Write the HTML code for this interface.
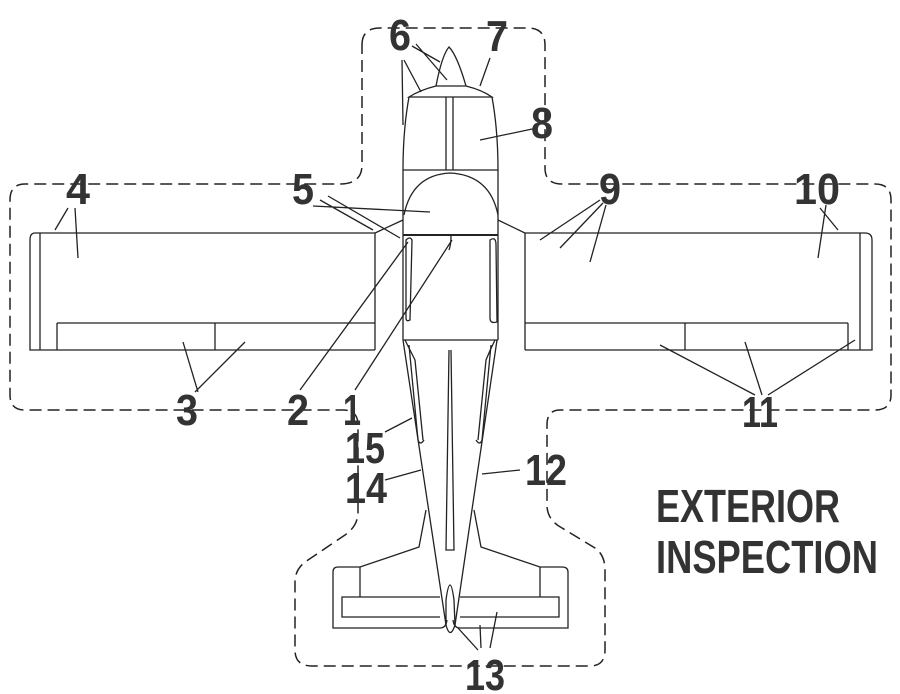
<!DOCTYPE html>
<html><head><meta charset="utf-8"><style>
html,body{margin:0;padding:0;background:#fff;}
svg{display:block}
.n{font-family:"Liberation Sans",sans-serif;font-weight:bold;fill:#333;font-size:44px}
.t{font-family:"Liberation Sans",sans-serif;font-weight:bold;fill:#333;font-size:46px}
</style></head><body>
<svg width="900" height="694" viewBox="0 0 900 694" xmlns="http://www.w3.org/2000/svg">
<g fill="none" stroke="#222" stroke-width="1.5">
<path d="M362,45 Q362,28 380,28 L528,28 Q545,28 545,45 L545,168 Q545,184 562,184 L875,184 Q891,184 891,200 L891,395 Q891,410 875,410 L560,410 Q547,410 547,425 L547,505 Q547,520 562,528 L595,548 Q605,555 605,570 L605,650 Q605,666 590,666 L312,666 Q295,666 295,650 L295,582 Q295,568 308,560 L345,535 Q358,526 358,512 L358,425 Q358,410 343,410 L25,410 Q10,410 10,395 L10,200 Q10,184 25,184 L340,184 Q362,184 362,165 Z" stroke-dasharray="12,6"/>
</g>
<g fill="none" stroke="#222" stroke-width="1.3">
<path d="M436,86 Q442,55 449,47 Q457,55 466,86"/>
<path d="M409,97 Q420,90 436,86 L466,86 Q482,90 492,97 L409,97 Z"/>
<path d="M409,97 Q403,130 403,170 M492,97 Q498,130 498,170"/>
<line x1="446" y1="97" x2="446" y2="170"/><line x1="453" y1="97" x2="453" y2="170"/>
<line x1="403" y1="170" x2="498" y2="170"/>
<path d="M404,215 Q412,175 450,173 Q490,175 498,215"/>
<line x1="403" y1="235" x2="498" y2="235" stroke-width="2"/>
<line x1="403" y1="170" x2="403" y2="340"/><line x1="498" y1="170" x2="498" y2="340"/>
<path d="M406,240 Q410,236 412,240 L410,320 Q406,322 406,318 Z"/>
<path d="M490,240 Q496,236 496,245 L497,322 Q490,324 490,318 Z"/>
<path d="M451,236 Q451,245 449,250"/>
<path d="M403,220 L375,233 L375,350 M498,220 L525,233 L525,350"/>
<path d="M403,340 L446,625 M497,340 L455,625"/>
<path d="M405,340 Q410,350 415,360 L423,440 M495,340 Q490,350 486,360 L478,440"/>
<path d="M409,345 L418,440 Q420,446 424,440 M491,345 L482,440 Q480,446 476,440"/>
<line x1="403" y1="340" x2="498" y2="340"/>
<path d="M449,350 L446,550 L454,550 L451,350"/>
<path d="M375,233 L35,233 Q30,233 30,240 L30,350 L375,350"/>
<line x1="40" y1="233" x2="40" y2="350"/>
<line x1="57" y1="323" x2="375" y2="323"/>
<line x1="57" y1="323" x2="57" y2="350"/><line x1="215" y1="323" x2="215" y2="350"/>
<path d="M525,233 L865,233 Q872,233 872,240 L872,350 L525,350"/>
<line x1="860" y1="233" x2="860" y2="350"/>
<line x1="525" y1="323" x2="848" y2="323"/>
<line x1="685" y1="323" x2="685" y2="350"/><line x1="848" y1="323" x2="848" y2="350"/>
<path d="M426,510 L419,547 L360,567 L338,567 Q333,567 333,572 L333,628 L440,628 Q446,628 447,620"/>
<path d="M360,567 L360,597 L342,597 L342,617 L440,617 M360,597 L440,597"/>
<path d="M474,510 L481,547 L540,567 L562,567 Q568,567 568,572 L568,628 L460,628 Q454,628 453,620"/>
<path d="M540,567 L540,597 L559,597 L559,617 L460,617 M540,597 L460,597"/>
<path d="M446,600 Q450,570 454,600 L455,625 Q450,640 446,625 Z"/>
<path d="M402,60 L403,125 M404,60 L421,92 M412,46 L440,62 M416,44 L447,80 M490,58 L480,86 M537,128 L480,140 M313,206 L430,212 M320,200 L373,230 M328,196 L400,238"/>
<path d="M68,208 L55,230 M75,208 L78,258" />
<path d="M600,200 L540,240 M603,203 L560,248 M606,205 L590,262"/>
<path d="M820,208 L838,230 M826,205 L818,258"/>
<path d="M195,392 L245,342 M198,392 L183,342"/>
<path d="M300,390 L408,242 M355,390 L452,240"/>
<path d="M755,395 L660,345 M762,395 L745,342 M768,395 L855,340"/>
<path d="M385,432 L412,418 M385,480 L421,470 M520,470 L482,474"/>
<path d="M478,650 L458,628 M481,648 L480,625 M490,648 L497,612"/>
</g>
<g class="n">
<text x="389" y="50" textLength="22" lengthAdjust="spacingAndGlyphs">6</text>
<text x="486" y="51" textLength="22" lengthAdjust="spacingAndGlyphs">7</text>
<text x="531" y="138" textLength="22" lengthAdjust="spacingAndGlyphs">8</text>
<text x="292" y="204" textLength="22" lengthAdjust="spacingAndGlyphs">5</text>
<text x="66" y="204" textLength="24" lengthAdjust="spacingAndGlyphs">4</text>
<text x="599" y="204" textLength="22" lengthAdjust="spacingAndGlyphs">9</text>
<text x="794" y="204" textLength="46" lengthAdjust="spacingAndGlyphs">10</text>
<text x="176" y="425" textLength="22" lengthAdjust="spacingAndGlyphs">3</text>
<text x="287" y="425" textLength="22" lengthAdjust="spacingAndGlyphs">2</text>
<text x="343" y="425" textLength="18" lengthAdjust="spacingAndGlyphs">1</text>
<text x="742" y="427" textLength="36" lengthAdjust="spacingAndGlyphs">11</text>
<text x="345" y="463" textLength="40" lengthAdjust="spacingAndGlyphs">15</text>
<text x="345" y="503" textLength="42" lengthAdjust="spacingAndGlyphs">14</text>
<text x="525" y="485" textLength="42" lengthAdjust="spacingAndGlyphs">12</text>
<text x="465" y="690" textLength="40" lengthAdjust="spacingAndGlyphs">13</text>
</g>
<text class="t" x="656" y="522" textLength="184" lengthAdjust="spacingAndGlyphs">EXTERIOR</text>
<text class="t" x="656" y="573" textLength="222" lengthAdjust="spacingAndGlyphs">INSPECTION</text>
</svg>
</body></html>
